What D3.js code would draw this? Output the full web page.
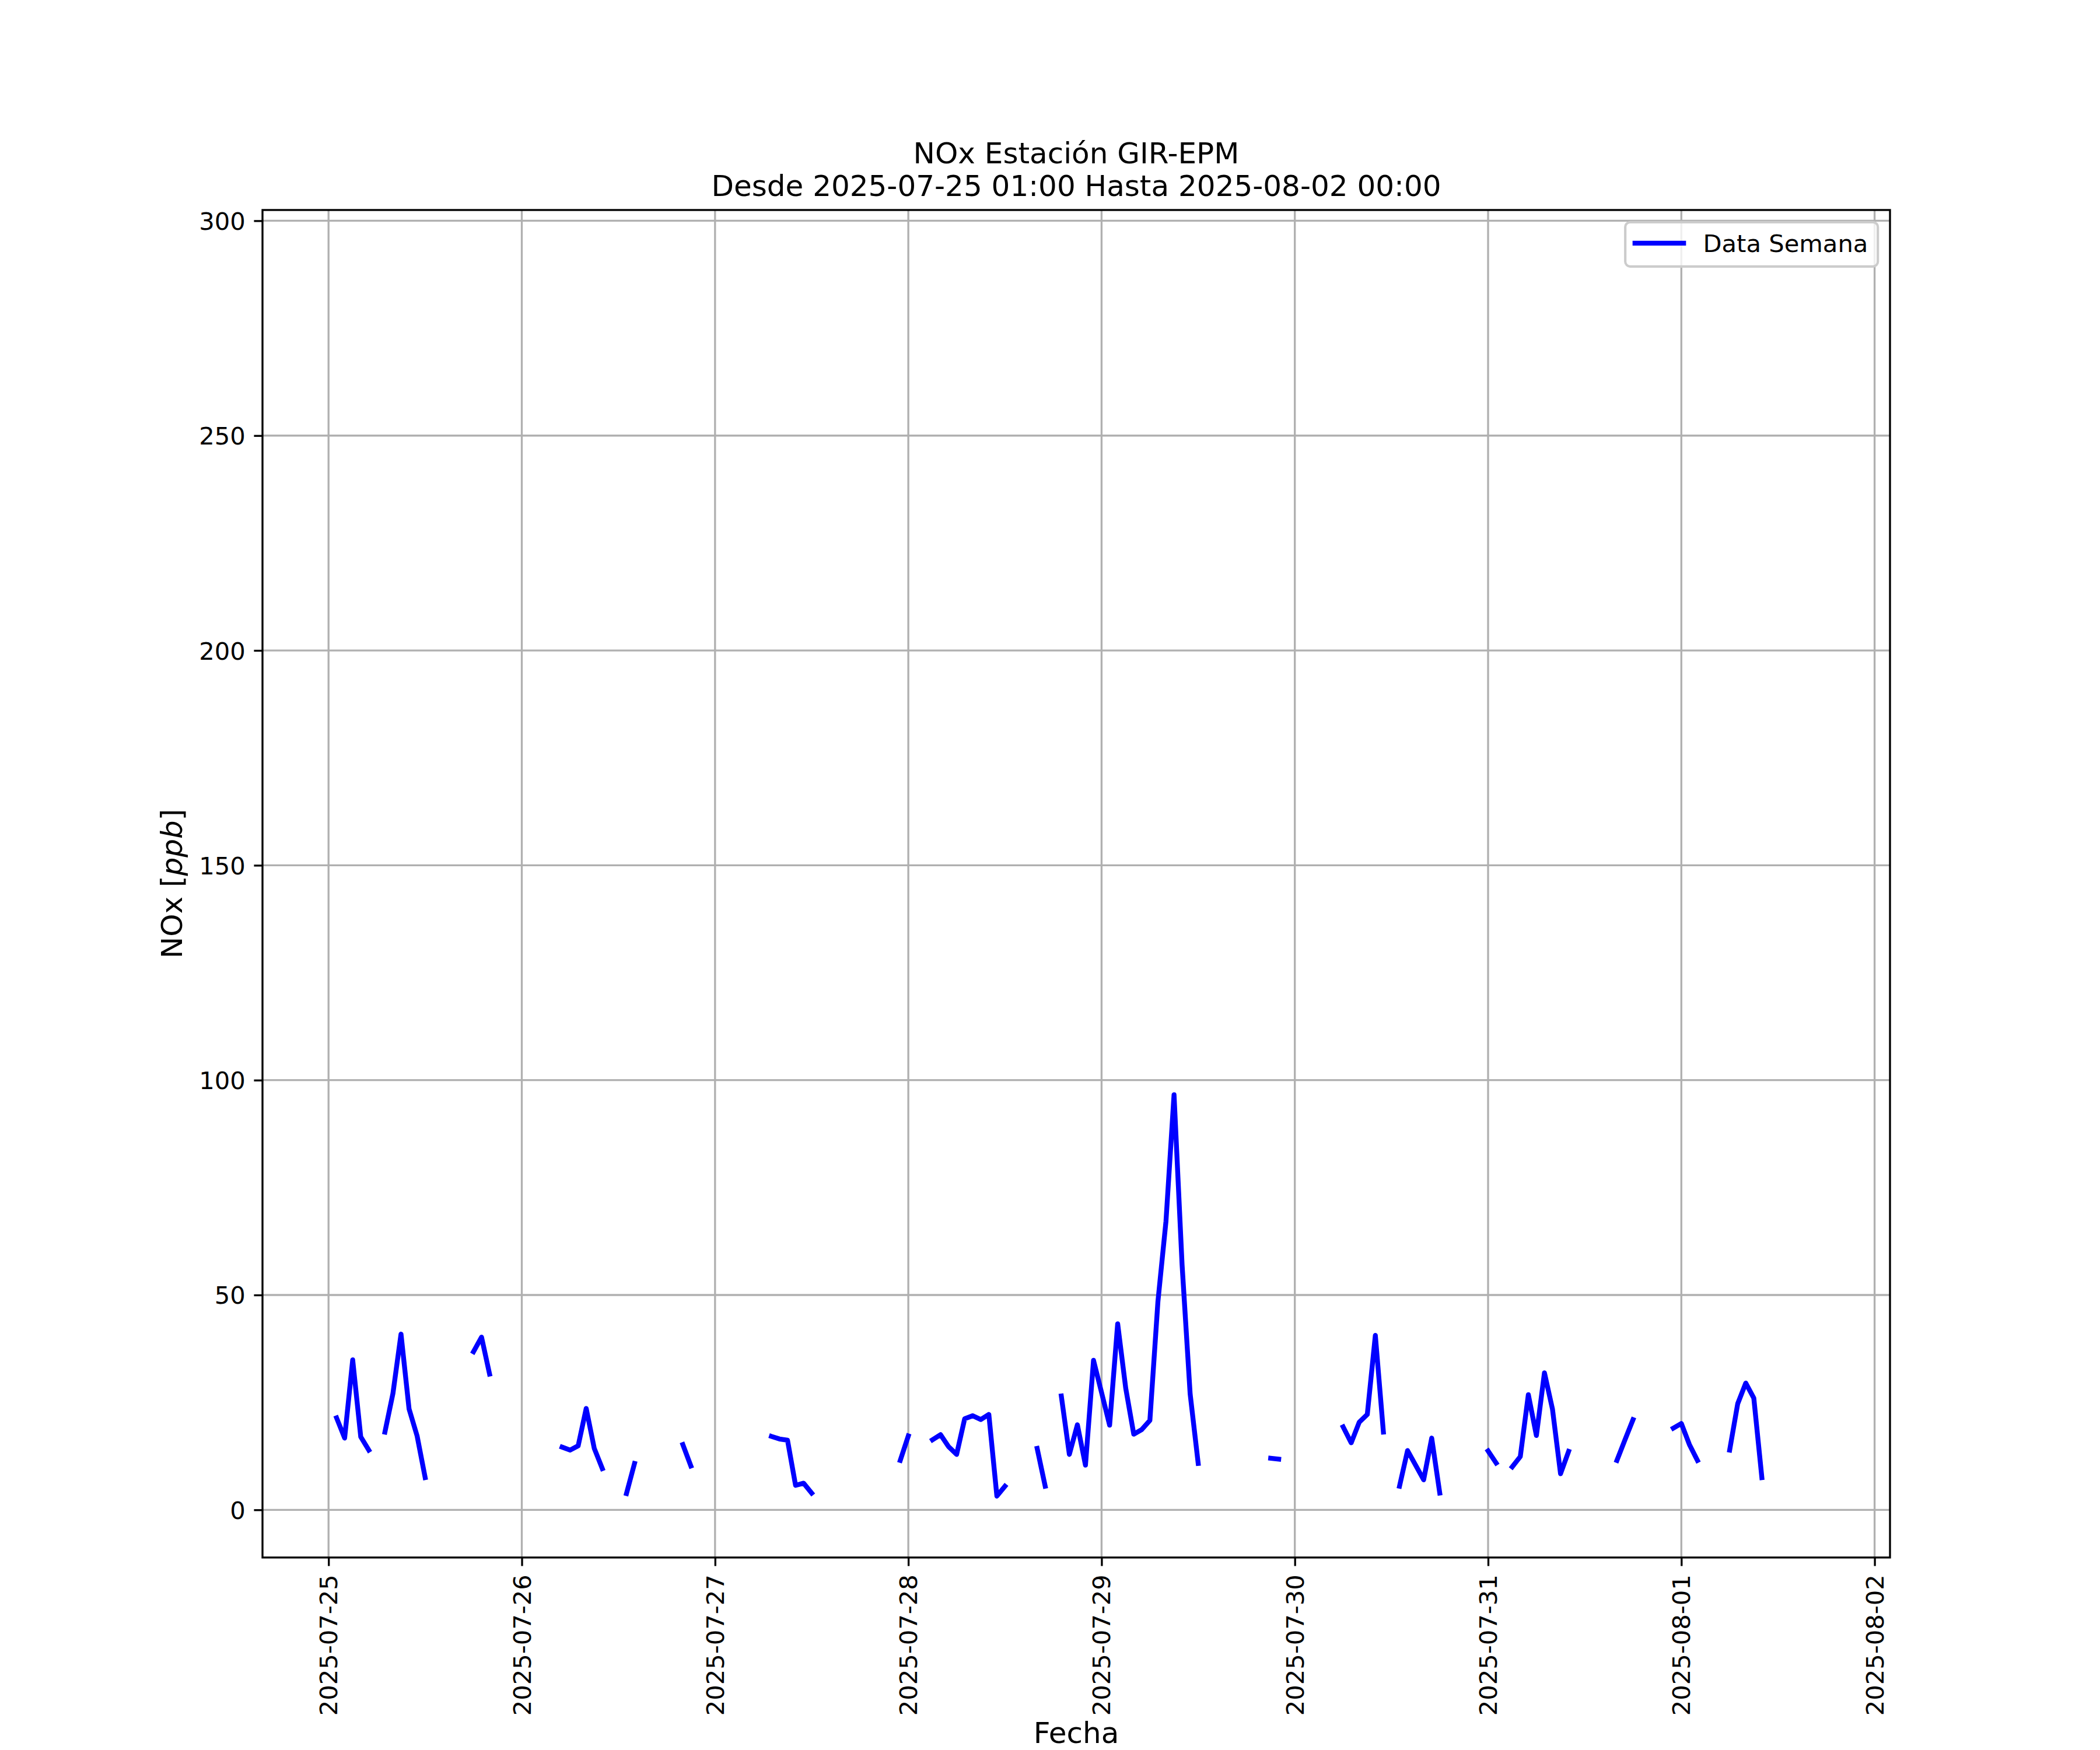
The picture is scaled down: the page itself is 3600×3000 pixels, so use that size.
<!DOCTYPE html>
<html><head><meta charset="utf-8">
<script src="https://cdn.jsdelivr.net/npm/d3@7"></script>
<style>
body{margin:0;background:#fff}
svg{display:block}
text{font-family:"DejaVu Sans",sans-serif;fill:#000}
</style>
</head><body>
<svg id="chart" width="3600" height="3000"></svg>
<script>
// ---------------- data ----------------
const titleLines = ["NOx Estación GIR-EPM", "Desde 2025-07-25 01:00 Hasta 2025-08-02 00:00"];
const seriesName = "Data Semana";
const xLabel = "Fecha";
const yLabelMain = "NOx [";
const yLabelUnit = "ppb";
const startTime = "2025-07-25T01:00:00Z";   // hourly series
const noxValues = [
  21.4, 16.7, 34.9, 17.0, 13.9, null, 18.1, 27.1, 40.9, 23.5, 17.2, 7.5, null, null, null, null, null, 36.8, 40.2, 31.6, null, null, null, null,
  null, null, null, null, 14.6, 13.9, 14.9, 23.6, 14.3, 9.6, null, null, 3.8, 10.8, null, null, null, null, null, 15.2, 10.2, null, null, null,
  null, null, null, null, null, null, 17.1, 16.5, 16.2, 5.7, 6.2, 3.9, null, null, null, null, null, null, null, null, null, null, 11.5, 17.2,
  null, null, 16.3, 17.5, 14.7, 12.9, 21.2, 21.9, 21.0, 22.2, 3.2, 5.5, null, null, null, 14.3, 5.5, null, 26.5, 12.9, 19.8, 10.4, 34.8, 27.3,
  19.7, 43.3, 28.3, 17.6, 18.7, 20.8, 48.5, 67.2, 96.6, 57.0, 27.0, 10.8, null, null, null, null, null, null, null, null, 12.0, 11.8, null, null,
  null, null, null, null, null, 19.3, 15.6, 20.4, 22.2, 40.6, 18.1, null, 5.5, 13.8, 10.4, 7.0, 16.7, 3.9, null, null, null, null, null, 13.7,
  10.9, null, 10.0, 12.4, 26.8, 17.3, 31.9, 23.4, 8.4, 13.6, null, null, null, null, null, 11.5, 16.3, 21.0, null, null, null, null, 19.0, 20.1,
  15.2, 11.5, null, null, null, 13.9, 24.7, 29.5, 26.0, 7.5, null, null, null, null, null, null, null, null, null, null, null, null, null, null
];
const xTickLabels = ["2025-07-25","2025-07-26","2025-07-27","2025-07-28","2025-07-29","2025-07-30","2025-07-31","2025-08-01","2025-08-02"];
const yTickValues = [0, 50, 100, 150, 200, 250, 300];

// ---------------- layout ----------------
const W = 3600, H = 3000;
const L = 450, R = 3240, T = 360, B = 2670;
const DAY = 86400000;
const pt = 300 / 72;               // px per point
const tickLen = 3.5 * pt, tickPad = 3.5 * pt;
const fsTick = 10 * pt, fsLabel = 12 * pt;

const t0 = Date.parse(startTime);
const data = noxValues.map((v, i) => ({ t: new Date(t0 + i * 3600000), v }));
const ticksX = xTickLabels.map(s => new Date(s + "T00:00:00Z"));

const base = ticksX[0].getTime();
const x = d3.scaleUtc()
  .domain([new Date(base - 0.3417 * DAY), new Date(base + 8.0797 * DAY)])
  .range([L, R]);
const y = d3.scaleLinear().domain([-11.09, 302.5]).range([B, T]);

const svg = d3.select("#chart");
svg.append("rect").attr("width", W).attr("height", H).attr("fill", "#fff");

// grid
const grid = svg.append("g");
grid.selectAll("line.gx").data(ticksX).enter().append("line")
  .attr("x1", d => x(d)).attr("x2", d => x(d)).attr("y1", T).attr("y2", B)
  .attr("stroke", "#b0b0b0").attr("stroke-width", 0.8 * pt);
grid.selectAll("line.gy").data(yTickValues).enter().append("line")
  .attr("y1", d => y(d)).attr("y2", d => y(d)).attr("x1", L).attr("x2", R)
  .attr("stroke", "#b0b0b0").attr("stroke-width", 0.8 * pt);

// clip
svg.append("clipPath").attr("id", "clip").append("rect")
  .attr("x", L).attr("y", T).attr("width", R - L).attr("height", B - T);

// line
const line = d3.line().defined(d => d.v != null).x(d => x(d.t)).y(d => y(d.v));
svg.append("path").datum(data)
  .attr("clip-path", "url(#clip)")
  .attr("d", line)
  .attr("fill", "none").attr("stroke", "#0000ff")
  .attr("stroke-width", 2 * pt)
  .attr("stroke-linejoin", "round").attr("stroke-linecap", "square");

// x axis
const xAxis = d3.axisBottom(x).tickValues(ticksX)
  .tickFormat((d, i) => xTickLabels[i]).tickSize(tickLen).tickSizeOuter(0);
const gx = svg.append("g").attr("transform", `translate(0,${B})`).call(xAxis);
gx.select(".domain").remove();
gx.selectAll(".tick line").attr("stroke", "#000").attr("stroke-width", 0.8 * pt);
gx.selectAll(".tick text")
  .attr("x", null).attr("y", null).attr("dy", "0.35em")
  .attr("transform", `translate(0,${tickLen + tickPad}) rotate(-90)`)
  .attr("text-anchor", "end").attr("font-size", fsTick)
  .attr("font-family", "DejaVu Sans").attr("fill", "#000");

// y axis
const yAxis = d3.axisLeft(y).tickValues(yTickValues).tickFormat(d3.format("d"))
  .tickSize(tickLen).tickPadding(tickPad).tickSizeOuter(0);
const gy = svg.append("g").attr("transform", `translate(${L},0)`).call(yAxis);
gy.select(".domain").remove();
gy.selectAll(".tick line").attr("stroke", "#000").attr("stroke-width", 0.8 * pt);
gy.selectAll(".tick text").attr("dy", "0.36em").attr("font-size", fsTick)
  .attr("font-family", "DejaVu Sans").attr("fill", "#000");

// spines
svg.append("rect").attr("x", L).attr("y", T).attr("width", R - L).attr("height", B - T)
  .attr("fill", "none").attr("stroke", "#000").attr("stroke-width", 0.8 * pt);

// title
const cx = (L + R) / 2;
svg.append("text").attr("x", cx).attr("y", 280).attr("text-anchor", "middle")
  .attr("font-size", fsLabel).text(titleLines[0]);
svg.append("text").attr("x", cx).attr("y", 336).attr("text-anchor", "middle")
  .attr("font-size", fsLabel).text(titleLines[1]);

// axis labels
svg.append("text").attr("x", cx).attr("y", 2988).attr("text-anchor", "middle")
  .attr("font-size", fsLabel).text(xLabel);
const yl = svg.append("text").attr("transform", `translate(312,${(T + B) / 2}) rotate(-90)`)
  .attr("text-anchor", "middle").attr("font-size", fsLabel);
yl.append("tspan").text(yLabelMain);
yl.append("tspan").attr("font-style", "italic").text(yLabelUnit);
yl.append("tspan").text("]");

// legend
const lgW = 433, lgH = 76;
const lgX = R - 0.5 * fsTick - lgW, lgY = T + 0.5 * fsTick;
const lg = svg.append("g");
lg.append("rect").attr("x", lgX).attr("y", lgY).attr("width", lgW).attr("height", lgH)
  .attr("rx", 0.2 * fsTick).attr("ry", 0.2 * fsTick)
  .attr("fill", "#fff").attr("fill-opacity", 0.8)
  .attr("stroke", "#cccccc").attr("stroke-width", 1.0 * pt);
const lcy = lgY + lgH / 2 - 2;
const hx0 = lgX + 0.4 * fsTick;
lg.append("line").attr("x1", hx0).attr("x2", hx0 + 2 * fsTick)
  .attr("y1", lcy).attr("y2", lcy)
  .attr("stroke", "#0000ff").attr("stroke-width", 2 * pt).attr("stroke-linecap", "square");
lg.append("text").attr("x", hx0 + 2.8 * fsTick).attr("y", lcy).attr("dy", "0.36em")
  .attr("font-size", fsTick).text(seriesName);
</script>
</body></html>
